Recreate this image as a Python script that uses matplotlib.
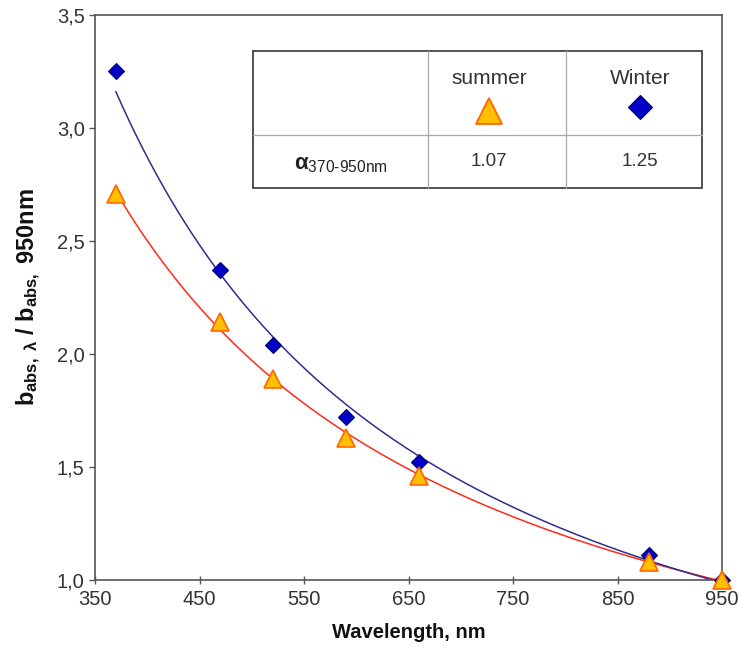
import numpy as np
import matplotlib
matplotlib.use("Agg")
import matplotlib.pyplot as plt
from matplotlib.ticker import FuncFormatter

plt.rcParams['font.family'] = ['Liberation Sans', 'DejaVu Sans']
plt.rcParams['mathtext.fontset'] = 'custom'
plt.rcParams['mathtext.rm'] = 'Liberation Sans'
plt.rcParams['mathtext.it'] = 'Liberation Sans:italic'
plt.rcParams['mathtext.bf'] = 'Liberation Sans:bold'

# normalised absorption, b_abs(lambda) / b_abs(950 nm)
wavelength = [370, 470, 520, 590, 660, 880, 950]
summer = [2.71, 2.14, 1.89, 1.63, 1.46, 1.08, 1.00]
winter = [3.25, 2.37, 2.04, 1.72, 1.52, 1.11, 1.00]

season_names = ['summer', 'Winter']
alpha_values = ['1.07', '1.25']

x_ticks = [350, 450, 550, 650, 750, 850, 950]
y_ticks = [1.0, 1.5, 2.0, 2.5, 3.0, 3.5]


def power_fit(x, y):
    # power-law trendline, least squares in log-log space
    slope, icpt = np.polyfit(np.log(x), np.log(y), 1)
    xs = np.linspace(min(x), max(x), 200)
    return xs, np.exp(icpt) * xs ** slope


fig = plt.figure(figsize=(7.39, 6.52), dpi=100)
ax = fig.add_axes([0.1286, 0.1104, 0.8484, 0.8666])

xs, ys = power_fit(wavelength, summer)
ax.plot(xs, ys, color='#ff2a1a', lw=1.1, zorder=2)
xs, ys = power_fit(wavelength, winter)
ax.plot(xs, ys, color='#2e2e8c', lw=1.1, zorder=2)

ax.plot(wavelength, winter, 'D', ms=8.5, color='#0000c8', mec='#000066', mew=0.8,
        zorder=3, clip_on=False)
ax.plot(wavelength, summer, '^', ms=12.5, color='#ffc000', mec='#ff6600', mew=1.2,
        zorder=4, clip_on=False)

ax.set_xlim(350, 950)
ax.set_ylim(1.0, 3.5)
ax.set_xticks(x_ticks)
ax.set_yticks(y_ticks)
ax.yaxis.set_major_formatter(FuncFormatter(lambda v, p: f"{v:.1f}".replace('.', ',')))
ax.tick_params(direction='out', length=4, width=1, color='#555555',
               labelsize=14.5, labelcolor='#333333')
ax.tick_params(axis='x', direction='inout', length=6, pad=4)
for s in ax.spines.values():
    s.set_color('#555555')
    s.set_linewidth(1.2)

ax.set_xlabel('Wavelength, nm', fontsize=14.5, fontweight='bold', labelpad=10,
              color='#111111')
ax.set_ylabel(r'$\mathbf{b_{abs,\ \lambda}\ /\ b_{abs,}}$ $\mathbf{950nm}$',
              fontsize=17, color='#111111')
ax.yaxis.set_label_coords(-0.083, 0.5)

# alpha summary table in the upper right corner
tx0, tx1, tx2, tx3 = 0.252, 0.531, 0.751, 0.968
ty0, ty1, ty2 = 0.694, 0.788, 0.936
tr = ax.transAxes
ax.add_patch(plt.Rectangle((tx0, ty0), tx3 - tx0, ty2 - ty0, transform=tr,
                           fill=True, fc='white', ec='#444444', lw=1.3, zorder=5))
ax.plot([tx0, tx3], [ty1, ty1], transform=tr, color='#aaaaaa', lw=0.9, zorder=6)
for xv in (tx1, tx2):
    ax.plot([xv, xv], [ty0, ty2], transform=tr, color='#aaaaaa', lw=0.9, zorder=6)

cols = [(tx1 + tx2) / 2 - 0.012, (tx2 + tx3) / 2 + 0.01]
for cx, name, a in zip(cols, season_names, alpha_values):
    ax.text(cx, ty2 - 0.048, name, transform=tr, ha='center', va='center',
            fontsize=15, color='#333333', zorder=7)
    ax.text(cx, (ty0 + ty1) / 2, a, transform=tr, ha='center', va='center',
            fontsize=13.5, color='#333333', zorder=7)
ax.plot(cols[0], ty1 + 0.042, '^', ms=19, color='#ffc000', mec='#ff6600', mew=1.3,
        transform=tr, zorder=7)
ax.plot(cols[1], ty1 + 0.05, 'D', ms=12.5, color='#0000c8', mec='#000066', mew=0.8,
        transform=tr, zorder=7)
ax.text((tx0 + tx1) / 2, (ty0 + ty1) / 2 - 0.006,
        r'$\mathbf{\alpha}_{\mathrm{370\text{-}950nm}}$', transform=tr,
        ha='center', va='center', fontsize=16, color='#222222', zorder=7)

fig.savefig('out.png', dpi=100)
